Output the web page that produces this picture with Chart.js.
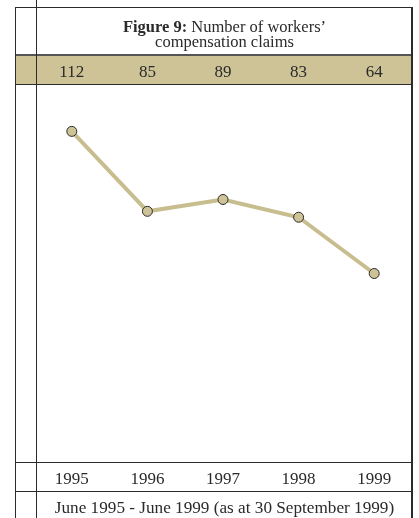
<!DOCTYPE html>
<html>
<head>
<meta charset="utf-8">
<script src="https://cdn.jsdelivr.net/npm/chart.js@4/dist/chart.umd.min.js"></script>
<style>
  html, body { margin: 0; padding: 0; background: #fff; }
  #wrap { position: relative; width: 419px; height: 518px; overflow: hidden; }
  #c { position: absolute; left: 0; top: 0; }
  .txt { position: absolute; font-family: "Liberation Serif", serif; color: #2a2a2a; text-align: center; white-space: nowrap; }
  #title { left: 36px; width: 377px; top: 18.5px; font-size: 16.5px; line-height: 15px; }
  #foot { left: 36px; width: 377px; top: 497.5px; font-size: 17.2px; line-height: 20px; }
</style>
</head>
<body>
<div id="wrap">
  <canvas id="c" width="419" height="518"></canvas>
  <div id="title" class="txt"><b>Figure 9:</b> Number of workers’<br>compensation claims</div>
  <div id="foot" class="txt">June 1995 - June 1999 (as at 30 September 1999)</div>
</div>
<script>
const years = ['1995', '1996', '1997', '1998', '1999'];
const claims = [112, 85, 89, 83, 64];
const valueLabels = claims.map(String);

const LINE = '#2b2b2b';
const TAN = '#cdc397';

const framePlugin = {
  id: 'frame',
  beforeDraw(chart) {
    const ctx = chart.ctx;
    ctx.save();
    ctx.fillStyle = TAN;
    ctx.fillRect(15, 55, 398, 29);
    ctx.restore();
  },
  afterDraw(chart) {
    const ctx = chart.ctx;
    ctx.save();
    ctx.strokeStyle = LINE;
    ctx.lineWidth = 1;
    const h = (y, x0, x1) => { ctx.beginPath(); ctx.moveTo(x0, y + 0.5); ctx.lineTo(x1, y + 0.5); ctx.stroke(); };
    const v = (x, y0, y1) => { ctx.beginPath(); ctx.moveTo(x + 0.5, y0); ctx.lineTo(x + 0.5, y1); ctx.stroke(); };
    h(7, 15, 413);
    ctx.strokeStyle = '#555';
    ctx.lineWidth = 2;
    ctx.beginPath(); ctx.moveTo(15, 55); ctx.lineTo(413, 55); ctx.stroke();
    ctx.strokeStyle = LINE;
    ctx.lineWidth = 1;
    h(84, 15, 413);
    h(462, 15, 413);
    h(491, 15, 413);
    v(15, 7, 518);
    v(36, 0, 518);
    ctx.lineWidth = 2;
    ctx.beginPath(); ctx.moveTo(412, 7); ctx.lineTo(412, 518); ctx.stroke();
    ctx.restore();
  }
};

new Chart(document.getElementById('c'), {
  type: 'line',
  data: {
    labels: years,
    datasets: [{
      data: claims,
      borderColor: '#c8bd8f',
      borderWidth: 4,
      pointBackgroundColor: TAN,
      pointBorderColor: '#2b2b2b',
      pointBorderWidth: 1,
      pointRadius: 5,
      tension: 0
    }]
  },
  options: {
    responsive: false,
    animation: false,
    layout: { padding: { left: 34, right: 7, top: 55, bottom: 25 } },
    plugins: { legend: { display: false }, tooltip: { enabled: false }, title: { display: false } },
    scales: {
      x: {
        type: 'category',
        position: 'bottom',
        offset: true,
        grid: { display: false, drawTicks: false },
        border: { display: false },
        ticks: { color: '#2a2a2a', font: { family: 'Liberation Serif', size: 17 }, padding: 6, maxRotation: 0 },
        afterFit(s) { s.height = 30; }
      },
      xTop: {
        type: 'category',
        position: 'top',
        labels: valueLabels,
        offset: true,
        grid: { display: false, drawTicks: false },
        border: { display: false },
        ticks: { color: '#2a2a2a', font: { family: 'Liberation Serif', size: 17 }, padding: 1.5, maxRotation: 0 },
        afterFit(s) { s.height = 29; }
      },
      y: {
        display: false,
        min: 0,
        max: 128
      }
    }
  },
  plugins: [framePlugin]
});
</script>
</body>
</html>
